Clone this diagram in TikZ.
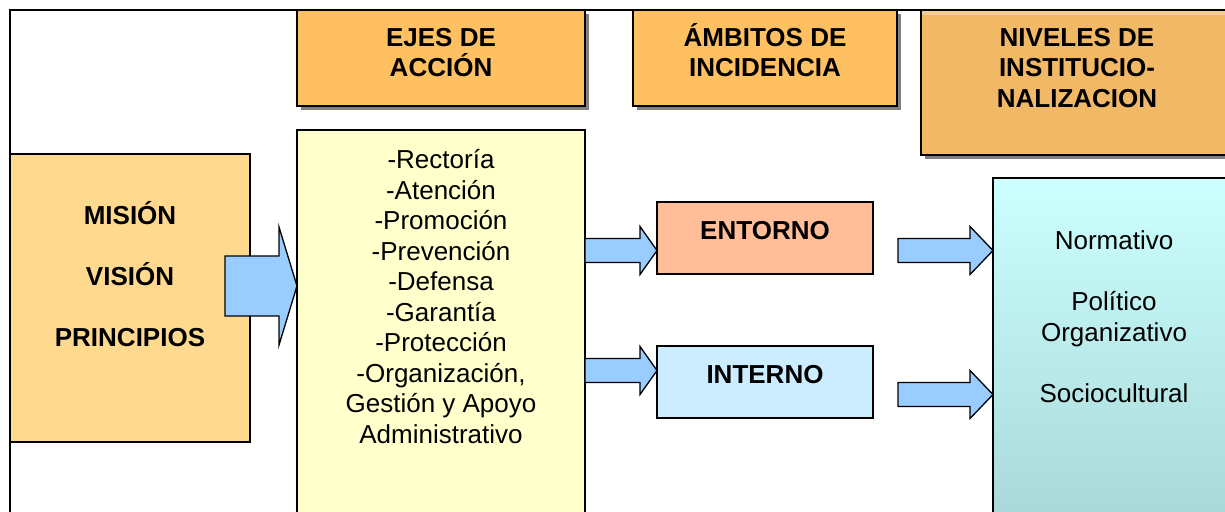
\documentclass[tikz,border=0pt]{standalone}
\usepackage{fontspec}
\setmainfont{Liberation Sans}
\usetikzlibrary{calc}
\definecolor{hdr}{HTML}{FFC062}
\definecolor{niv}{HTML}{F1B866}
\definecolor{mis}{HTML}{FFD98E}
\definecolor{yel}{HTML}{FFFFCC}
\definecolor{ent}{HTML}{FFBD98}
\definecolor{intc}{HTML}{CCECFF}
\definecolor{arr}{HTML}{99CCFF}
\definecolor{cyt}{HTML}{CCFFFF}
\definecolor{cyb}{HTML}{AAD8D8}
\definecolor{shd}{HTML}{808080}
\newcommand\blockarr[5]{%
  \draw[fatarrow] let \p1=(#1), \p2=(#2) in
    (\x1,\y1+#3) -- (\x2-#5,\y1+#3) -- (\x2-#5,\y1+#4) -- (\x2,\y1)
    -- (\x2-#5,\y1-#4) -- (\x2-#5,\y1-#3) -- (\x1,\y1-#3) -- cycle;}
\tikzset{
  boxline/.style={draw=black, line width=1.4pt},
  hdrbox/.style={boxline, fill=hdr},
  shadowbox/.style={fill=shd, draw=none},
  fatarrow/.style={fill=arr, draw=black, line width=1.3pt, line join=miter},
  bold/.style={font=\fontsize{26}{30.5}\selectfont\bfseries, align=center, inner sep=0pt, anchor=base},
  reg/.style={font=\fontsize{26}{30.5}\selectfont, align=center, inner sep=0pt, anchor=base},
}
\begin{document}
\begin{tikzpicture}[x=1pt,y=-1pt]
\useasboundingbox (0,0) rectangle (1225,511);
\clip (0,0) rectangle (1225,511);
% outer frame
\coordinate (ftl) at (10,10);
\coordinate (ftr) at (1230,10);
\coordinate (fbl) at (10,520);
\draw[line width=1.4pt] (fbl) -- (ftl) -- (ftr);
% header boxes with shadows
\fill[shadowbox] (301,14) rectangle (589,110);
\draw[hdrbox] (297,10) rectangle (585,106);
\node[bold] (ejes) at (441,77) {EJES DE\\ACCIÓN};
\fill[shadowbox] (637,14) rectangle (901,110);
\draw[hdrbox] (633,10) rectangle (897,106);
\node[bold] (amb) at (765,77) {ÁMBITOS DE\\INCIDENCIA};
\fill[shadowbox] (925,14) rectangle (1240,159);
\draw[boxline, fill=niv] (921,10) rectangle (1233,155);
\fill[niv!70!white] (922,11) rectangle (1232,15);
\node[bold] (niv) at (1077,107) {NIVELES DE\\INSTITUCIO-\\NALIZACION};
% mission box
\draw[boxline, fill=mis] (10,154) rectangle (250,442);
\node[bold] (mis) at (130,346) {MISIÓN\\[30.5pt]VISIÓN\\[30.5pt]PRINCIPIOS};
% yellow box
\draw[boxline, fill=yel] (297,130) rectangle (585,520);
\node[reg] (ejeslist) at (441,443) {-Rectoría\\-Atención\\-Promoción\\-Prevención\\-Defensa\\-Garantía\\-Protección\\-Organización,\\Gestión y Apoyo\\Administrativo};
% entorno / interno
\draw[boxline, fill=ent] (657,202) rectangle (873,274);
\node[bold] (ent) at (765,239) {ENTORNO};
\draw[boxline, fill=intc] (657,346) rectangle (873,418);
\node[bold] (int) at (765,383) {INTERNO};
% niveles detail box
\shade[top color=cyt, bottom color=cyb] (993,178) rectangle (1236,520);
\draw[boxline] (993,520) -- (993,178) -- (1236,178);
\node[reg] (lev) at (1114,402) {Normativo\\[30.5pt]Político\\Organizativo\\[30.5pt]Sociocultural};
% arrows
\coordinate (a1s) at (225,286); \coordinate (a1e) at (297,286);
\blockarr{a1s}{a1e}{30pt}{59pt}{18pt}
\coordinate (a2s) at (585,250.5); \coordinate (a2e) at (657,250.5);
\blockarr{a2s}{a2e}{12pt}{24pt}{17pt}
\coordinate (a3s) at (585,370.5); \coordinate (a3e) at (657,370.5);
\blockarr{a3s}{a3e}{12pt}{24pt}{17pt}
\coordinate (a4s) at (898,250.5); \coordinate (a4e) at (993,250.5);
\blockarr{a4s}{a4e}{12pt}{24pt}{23pt}
\coordinate (a5s) at (898,394.5); \coordinate (a5e) at (993,394.5);
\blockarr{a5s}{a5e}{12pt}{24pt}{23pt}
\end{tikzpicture}
\end{document}
